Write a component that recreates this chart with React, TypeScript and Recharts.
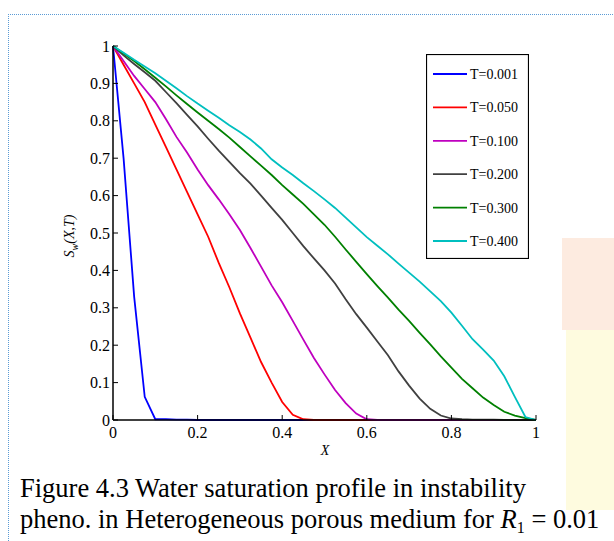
import React from 'react';
import { LineChart, Line, XAxis, YAxis, Legend } from 'recharts';

const xValues = [
  0, 0.025, 0.05, 0.075, 0.1, 0.125, 0.15, 0.175, 0.2, 0.225,
  0.25, 0.275, 0.3, 0.325, 0.35, 0.375, 0.4, 0.425, 0.45, 0.475,
  0.5, 0.525, 0.55, 0.575, 0.6, 0.625, 0.65, 0.675, 0.7, 0.725,
  0.75, 0.775, 0.8, 0.825, 0.85, 0.875, 0.9, 0.925, 0.95, 0.975, 1,
];

const sT0001 = [
  1, 0.7, 0.33, 0.062, 0.002, 0.002, 0.001, 0.001, 0, 0,
  0, 0, 0, 0, 0, 0, 0, 0, 0, 0,
  0, 0, 0, 0, 0, 0, 0, 0, 0, 0,
  0, 0, 0, 0, 0, 0, 0, 0, 0, 0, 0,
];
const sT0050 = [
  1, 0.95, 0.9, 0.85, 0.79, 0.73, 0.67, 0.61, 0.55, 0.49,
  0.42, 0.355, 0.285, 0.22, 0.155, 0.1, 0.048, 0.014, 0.002, 0,
  0, 0, 0, 0, 0, 0, 0, 0, 0, 0,
  0, 0, 0, 0, 0, 0, 0, 0, 0, 0, 0,
];
const sT0100 = [
  1, 0.96, 0.92, 0.885, 0.85, 0.805, 0.757, 0.715, 0.67, 0.628,
  0.59, 0.55, 0.508, 0.46, 0.41, 0.36, 0.315, 0.265, 0.215, 0.166,
  0.122, 0.08, 0.045, 0.017, 0.002, 0, 0, 0, 0, 0,
  0, 0, 0, 0, 0, 0, 0, 0, 0, 0, 0,
];
const sT0200 = [
  1, 0.975, 0.952, 0.93, 0.907, 0.877, 0.847, 0.816, 0.785, 0.752,
  0.72, 0.69, 0.66, 0.632, 0.6, 0.567, 0.535, 0.5, 0.465, 0.432,
  0.4, 0.365, 0.323, 0.283, 0.247, 0.21, 0.173, 0.13, 0.092, 0.057,
  0.03, 0.012, 0.004, 0.002, 0.001, 0.001, 0.001, 0, 0, 0, 0,
];
const sT0300 = [
  1, 0.98, 0.96, 0.938, 0.915, 0.892, 0.868, 0.845, 0.822, 0.8,
  0.778, 0.755, 0.73, 0.705, 0.68, 0.655, 0.628, 0.603, 0.578, 0.55,
  0.522, 0.49, 0.456, 0.423, 0.39, 0.358, 0.327, 0.295, 0.265, 0.233,
  0.202, 0.17, 0.14, 0.11, 0.085, 0.06, 0.04, 0.022, 0.012, 0.005, 0,
];
const sT0400 = [
  1, 0.982, 0.963, 0.945, 0.927, 0.907, 0.887, 0.866, 0.846, 0.827,
  0.808, 0.788, 0.77, 0.75, 0.726, 0.697, 0.675, 0.655, 0.633, 0.612,
  0.59, 0.567, 0.541, 0.515, 0.489, 0.466, 0.443, 0.418, 0.394, 0.37,
  0.344, 0.318, 0.287, 0.252, 0.216, 0.188, 0.159, 0.117, 0.062, 0.008, 0,
];

const seriesKeys = ['t1', 't2', 't3', 't4', 't5', 't6'];
const seriesNames = ['T=0.001', 'T=0.050', 'T=0.100', 'T=0.200', 'T=0.300', 'T=0.400'];
const seriesColors = ['#0000ff', '#ff0000', '#bf00bf', '#404040', '#008000', '#00bfbf'];
const seriesValues = [sT0001, sT0050, sT0100, sT0200, sT0300, sT0400];

const xTicks = [0, 0.2, 0.4, 0.6, 0.8, 1];
const xTickLabels = ['0', '0.2', '0.4', '0.6', '0.8', '1'];
const yTicks = [0, 0.1, 0.2, 0.3, 0.4, 0.5, 0.6, 0.7, 0.8, 0.9, 1];
const yTickLabels = ['0', '0.1', '0.2', '0.3', '0.4', '0.5', '0.6', '0.7', '0.8', '0.9', '1'];

const captionLine1 = 'Figure 4.3 Water saturation profile in instability';
const captionLine2 = 'pheno. in Heterogeneous porous medium for ';

const data = xValues.map((x, i) => {
  const row: any = { x };
  seriesKeys.forEach((k, j) => {
    row[k] = seriesValues[j][i];
  });
  return row;
});

const SERIF = '"Liberation Serif", "Times New Roman", Times, serif';

// chart frame
const W = 614;
const H = 541;
const MARGIN = { top: 46, right: 78, bottom: 91, left: 0 };
const Y_AXIS_W = 113;
const X_AXIS_H = 30;
const PLOT_LEFT = MARGIN.left + Y_AXIS_W;
const PLOT_RIGHT = W - MARGIN.right;
const PLOT_TOP = MARGIN.top;
const PLOT_BOTTOM = H - MARGIN.bottom - X_AXIS_H;
const TICK_LEN = 5;

const textStyle = { fontFamily: SERIF };

const BottomTick = (props: any) => {
  const { x, index } = props;
  const y = PLOT_BOTTOM;
  return (
    <g>
      <line x1={x} y1={y} x2={x} y2={y - TICK_LEN} stroke="#000" strokeWidth={1} />
      <text x={x} y={y + 18} textAnchor="middle" style={textStyle} fontFamily={SERIF} fontSize={16} fill="#000">
        {xTickLabels[index]}
      </text>
    </g>
  );
};
const TopTick = (props: any) => {
  const { x } = props;
  const y = PLOT_TOP;
  return <line x1={x} y1={y} x2={x} y2={y + TICK_LEN} stroke="#000" strokeWidth={1} />;
};
const LeftTick = (props: any) => {
  const { y, index } = props;
  const x = PLOT_LEFT;
  return (
    <g>
      <line x1={x} y1={y} x2={x + TICK_LEN} y2={y} stroke="#000" strokeWidth={1} />
      <text x={x - 3} y={y + 5.5} textAnchor="end" style={textStyle} fontFamily={SERIF} fontSize={16} fill="#000">
        {yTickLabels[index]}
      </text>
    </g>
  );
};
const RightTick = (props: any) => {
  const { y } = props;
  const x = PLOT_RIGHT;
  return <line x1={x} y1={y} x2={x - TICK_LEN} y2={y} stroke="#000" strokeWidth={1} />;
};

const LegendBox = (props: any) => {
  const payload = (props.payload || []) as any[];
  return (
    <svg width={103} height={205} style={{ display: 'block' }}>
      <rect x={0.5} y={0.5} width={102} height={204} fill="#fff" stroke="#000" strokeWidth={1.2} />
      {payload.map((p: any, i: number) => {
        const cy = 20 + i * 33.4;
        return (
          <g key={i}>
            <line x1={7} y1={cy} x2={41} y2={cy} stroke={p.color} strokeWidth={1.8} />
            <text x={44} y={cy + 5} style={textStyle} fontFamily={SERIF} fontSize={14} fill="#000">
              {p.value}
            </text>
          </g>
        );
      })}
    </svg>
  );
};

export default function App() {
  return (
    <div
      style={{
        position: 'absolute',
        left: 0,
        top: 0,
        width: W,
        height: H,
        overflow: 'hidden',
        background: '#fff',
        fontFamily: SERIF,
      }}
    >
      <svg width={W} height={H} style={{ position: 'absolute', left: 0, top: 0 }}>
        <rect x={562} y={238} width={52} height={92} fill="#fdebe0" />
        <rect x={566} y={330} width={48} height={180} fill="#fefbdf" />
      </svg>
      <div
        style={{
          position: 'absolute',
          left: 8,
          top: 14,
          width: 700,
          height: 600,
          borderLeft: '1px dotted #5b9bd5',
          borderTop: '1px dotted #5b9bd5',
        }}
      />
      <div style={{ position: 'absolute', left: 0, top: 0 }}>
        <LineChart width={W} height={H} data={data} margin={MARGIN}>
          <XAxis
            xAxisId="b"
            dataKey="x"
            type="number"
            domain={[0, 1]}
            ticks={xTicks}
            interval={0}
            height={X_AXIS_H}
            tickLine={false}
            tick={<BottomTick />}
            axisLine={{ stroke: '#000', strokeWidth: 1.5 }}
          />
          <XAxis
            xAxisId="t"
            orientation="top"
            dataKey="x"
            type="number"
            domain={[0, 1]}
            ticks={xTicks}
            interval={0}
            height={0}
            tickLine={false}
            tick={<TopTick />}
            axisLine={{ stroke: '#000', strokeWidth: 1.5 }}
          />
          <YAxis
            yAxisId="l"
            type="number"
            domain={[0, 1]}
            ticks={yTicks}
            interval={0}
            width={Y_AXIS_W}
            tickLine={false}
            tick={<LeftTick />}
            axisLine={{ stroke: '#000', strokeWidth: 1.5 }}
          />
          <YAxis
            yAxisId="r"
            orientation="right"
            type="number"
            domain={[0, 1]}
            ticks={yTicks}
            interval={0}
            width={0}
            tickLine={false}
            tick={<RightTick />}
            axisLine={{ stroke: '#000', strokeWidth: 1.5 }}
          />
          {seriesKeys.map((k, j) => (
            <Line
              key={k}
              xAxisId="b"
              yAxisId="l"
              type="linear"
              dataKey={k}
              name={seriesNames[j]}
              stroke={seriesColors[j]}
              strokeWidth={1.8}
              dot={false}
              isAnimationActive={false}
            />
          ))}
          <Legend
            layout="vertical"
            align="center"
            verticalAlign="middle"
            content={<LegendBox />}
            wrapperStyle={{ left: 426, top: 54, width: 103, height: 205, right: 'auto', bottom: 'auto', margin: 0 }}
          />
        </LineChart>
      </div>
      <svg width={W} height={H} style={{ position: 'absolute', left: 0, top: 0, pointerEvents: 'none' }}>
        <text x={325} y={455} textAnchor="middle" style={textStyle} fontFamily={SERIF} fontStyle="italic" fontSize={14} fill="#000">
          X
        </text>
        <text
          transform="translate(74,236) rotate(-90)"
          textAnchor="middle"
          style={textStyle}
          fontFamily={SERIF}
          fontStyle="italic"
          fontSize={14}
          fill="#000"
        >
          S<tspan fontSize={10} dy={4}>w</tspan>
          <tspan dy={-4}>(X,T)</tspan>
        </text>
        <text x={20} y={497} style={textStyle} fontFamily={SERIF} fontSize={26.5} fill="#000">
          {captionLine1}
        </text>
        <text x={20} y={528} style={textStyle} fontFamily={SERIF} fontSize={26.5} fill="#000">
          {captionLine2}
          <tspan fontStyle="italic">R</tspan>
          <tspan fontSize={16} dy={5}>1</tspan>
          <tspan dy={-5}> = 0.01</tspan>
        </text>
      </svg>
    </div>
  );
}
